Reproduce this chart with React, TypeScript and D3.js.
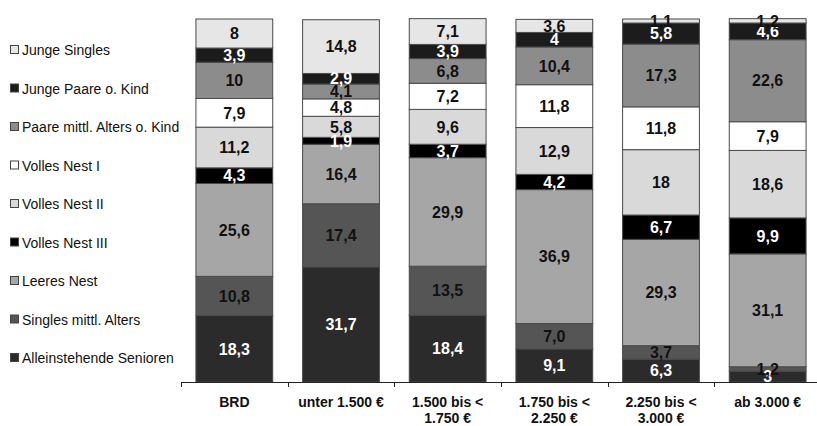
import * as d3 from 'd3';

const WIDTH = 817;
const HEIGHT = 426;

// categories (x axis), split into lines
const categories = ['BRD', 'unter 1.500 €', '1.500 bis < 1.750 €', '1.750 bis < 2.250 €', '2.250 bis < 3.000 €', 'ab 3.000 €'];
const categoryLines = [['BRD'], ['unter 1.500 €'], ['1.500 bis <', '1.750 €'], ['1.750 bis <', '2.250 €'], ['2.250 bis <', '3.000 €'], ['ab 3.000 €']];

// series, bottom to top
const seriesNames = [
  'Alleinstehende Senioren',
  'Singles mittl. Alters',
  'Leeres Nest',
  'Volles Nest III',
  'Volles Nest II',
  'Volles Nest I',
  'Paare mittl. Alters o. Kind',
  'Junge Paare o. Kind',
  'Junge Singles',
];
const seriesColors = ['#2b2b2b', '#555555', '#a6a6a6', '#000000', '#d9d9d9', '#ffffff', '#8c8c8c', '#1c1c1c', '#e6e6e6'];
const seriesText = ['#fff', '#111', '#111', '#fff', '#111', '#111', '#111', '#fff', '#111'];

// values per series, one per category (as printed)
const alleinstehendeSenioren = ['18,3', '31,7', '18,4', '9,1', '6,3', '3'];
const singlesMittlAlters = ['10,8', '17,4', '13,5', '7,0', '3,7', '1,2'];
const leeresNest = ['25,6', '16,4', '29,9', '36,9', '29,3', '31,1'];
const vollesNestIII = ['4,3', '1,9', '3,7', '4,2', '6,7', '9,9'];
const vollesNestII = ['11,2', '5,8', '9,6', '12,9', '18', '18,6'];
const vollesNestI = ['7,9', '4,8', '7,2', '11,8', '11,8', '7,9'];
const paareMittlAlters = ['10', '4,1', '6,8', '10,4', '17,3', '22,6'];
const jungePaare = ['3,9', '2,9', '3,9', '4', '5,8', '4,6'];
const jungeSingles = ['8', '14,8', '7,1', '3,6', '1,1', '1,2'];

const seriesValues = [
  alleinstehendeSenioren,
  singlesMittlAlters,
  leeresNest,
  vollesNestIII,
  vollesNestII,
  vollesNestI,
  paareMittlAlters,
  jungePaare,
  jungeSingles,
];

const num = (s: string) => parseFloat(s.replace(',', '.'));

export default function App() {
  const x = d3.scaleBand<string>().domain(categories).range([181, 821]).paddingInner(0.28).paddingOuter(0.14);
  const y = d3.scaleLinear().domain([0, 100]).range([382, 19]);

  const rows = categories.map((c, ci) => {
    const row: Record<string, number> = {};
    seriesNames.forEach((s, si) => (row[s] = num(seriesValues[si][ci])));
    return row;
  });
  const stacked = d3.stack<Record<string, number>>().keys(seriesNames)(rows);

  const legendY = d3.scalePoint<string>().domain([...seriesNames].reverse()).range([50, 358]);
  const ticks = d3.range(categories.length + 1).map(i => 181 + i * x.step());

  return (
    <svg
      width={WIDTH}
      height={HEIGHT}
      style={{ position: 'absolute', left: 0, top: 0, background: '#fff', fontFamily: '"Liberation Sans", Arial, sans-serif' }}
    >
      {stacked.map((layer, si) => (
        <g key={layer.key}>
          {layer.map((d, ci) => {
            const top = y(d[1]);
            const bottom = y(d[0]);
            return (
              <rect
                key={ci}
                x={x(categories[ci])!}
                y={top}
                width={x.bandwidth()}
                height={bottom - top}
                fill={seriesColors[si]}
                stroke="#4a4a4a"
                strokeWidth={1}
              />
            );
          })}
        </g>
      ))}
      {stacked.map((layer, si) => (
        <g key={'t' + layer.key}>
          {layer.map((d, ci) => (
            <text
              key={ci}
              x={x(categories[ci])! + x.bandwidth() / 2}
              y={(y(d[0]) + y(d[1])) / 2}
              dy="0.36em"
              textAnchor="middle"
              fontSize={16}
              fontWeight="bold"
              fill={seriesText[si]}
            >
              {seriesValues[si][ci]}
            </text>
          ))}
        </g>
      ))}

      <line x1={181} x2={WIDTH} y1={382.5} y2={382.5} stroke="#222" />
      {ticks.map((t, i) => (
        <line key={i} x1={Math.round(t) + 0.5} x2={Math.round(t) + 0.5} y1={382} y2={387} stroke="#222" />
      ))}
      {categoryLines.map((lines, ci) => (
        <text
          key={ci}
          x={x(categories[ci])! + x.bandwidth() / 2}
          y={407}
          textAnchor="middle"
          fontSize={14}
          fontWeight="bold"
          fill="#111"
        >
          {lines.map((l, li) => (
            <tspan key={li} x={x(categories[ci])! + x.bandwidth() / 2} dy={li === 0 ? 0 : 16}>
              {l}
            </tspan>
          ))}
        </text>
      ))}

      {seriesNames.map((s, si) => (
        <g key={s} transform={`translate(10, ${legendY(s)})`}>
          <rect x={0.5} y={-4.5} width={8} height={8} fill={seriesColors[si]} stroke="#444" />
          <text x={12} y={0} dy="0.36em" fontSize={14} fill="#111">
            {s}
          </text>
        </g>
      ))}
    </svg>
  );
}
